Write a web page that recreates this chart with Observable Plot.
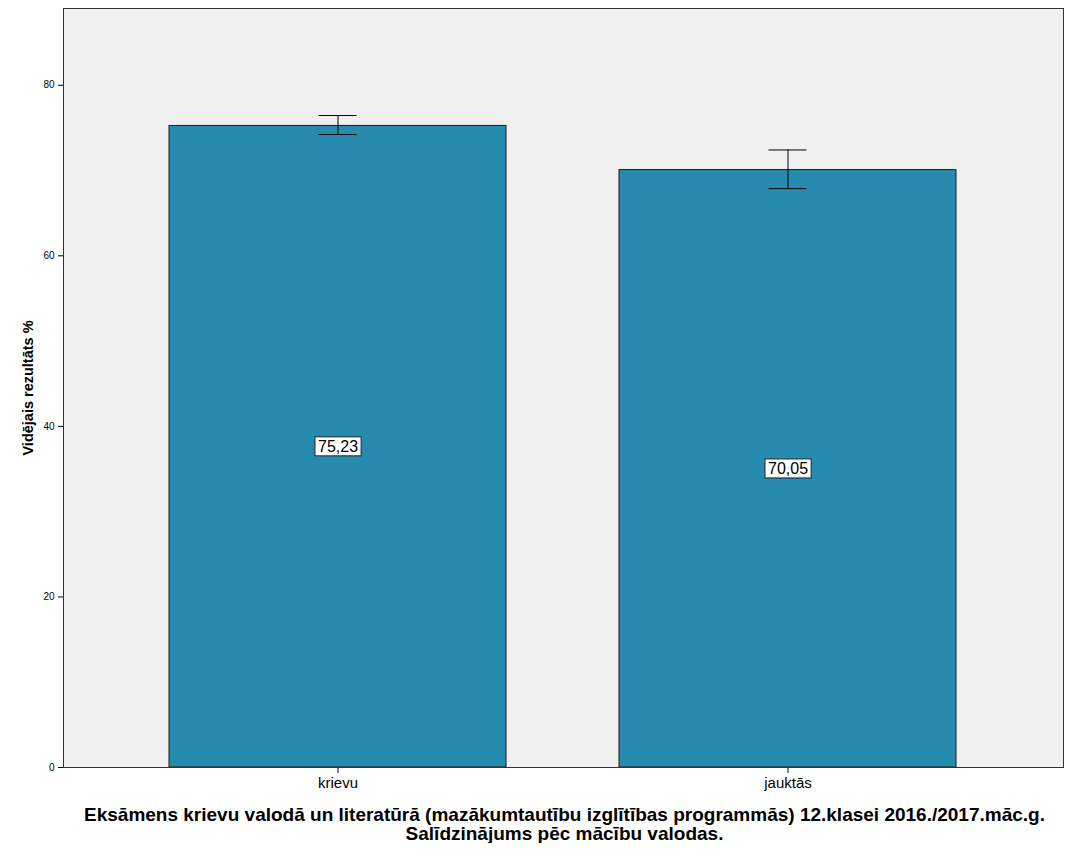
<!DOCTYPE html>
<html>
<head>
<meta charset="utf-8">
<script src="https://cdn.jsdelivr.net/npm/d3@7"></script>
<script src="https://cdn.jsdelivr.net/npm/@observablehq/plot@0.6"></script>
<style>
  body { margin: 0; background: #fff; font-family: "Liberation Sans", Arial, sans-serif; }
  #title { width: 1021px; padding-left: 54px; text-align: center; font-weight: bold; font-size: 19px; line-height: 19px; margin-top: 5px; color: #000; white-space: nowrap; }
</style>
</head>
<body>
<div id="chart"></div>
<div id="title">Eksāmens krievu valodā un literatūrā (mazākumtautību izglītības programmās) 12.klasei 2016./2017.māc.g.<br>Salīdzinājums pēc mācību valodas.</div>
<script>
// valodas un vidējie rezultāti
const valodas = ["krievu", "jauktās"];
const videjais = [75.23, 70.05];
// kļūdu joslas (apakša / augša)
const kludaApaksa = [74.22, 67.88];
const kludaAugsa = [76.45, 72.41];
const yTicks = [0, 20, 40, 60, 80];

const data = valodas.map((v, i) => ({ valoda: v, vid: videjais[i], lo: kludaApaksa[i], hi: kludaAugsa[i] }));
const fmt = d => d.toFixed(2).replace(".", ",");

let chart = Plot.plot({
  width: 1075,
  height: 800,
  marginLeft: 63,
  marginRight: 12,
  marginTop: 8,
  marginBottom: 33,
  style: { fontFamily: "Liberation Sans, Arial, sans-serif", background: "#fff" },
  x: { domain: valodas, paddingInner: 0.251, paddingOuter: 0.2365, label: null },
  y: { domain: [0, 89], ticks: yTicks, label: null },
  marks: [
    Plot.frame({ fill: "#f0f0f0" }),
    Plot.barY(data, { x: "valoda", y: "vid", fill: "#268bae", stroke: "#1a1a1a", strokeWidth: 1 }),
    Plot.ruleX(data, { x: "valoda", y1: "lo", y2: "hi", stroke: "#000", strokeWidth: 1 }),
    Plot.tickY(data, { x: "valoda", y: "lo", stroke: "#000", insetLeft: 149.5, insetRight: 149.5 }),
    Plot.tickY(data, { x: "valoda", y: "hi", stroke: "#000", insetLeft: 149.5, insetRight: 149.5 }),
    Plot.text(data, { x: "valoda", y: d => d.vid / 2, text: d => fmt(d.vid), fontSize: 16, fill: "#000", className: "vid-label" }),
    Plot.axisY({ ticks: yTicks, tickSize: 5, fontSize: 10, label: null }),
    Plot.axisX({ tickSize: 6, fontSize: 15, tickPadding: 4, label: null }),
    Plot.text(["Vidējais rezultāts %"], { frameAnchor: "left", textAnchor: "middle", dx: -35, rotate: -90, fontWeight: "bold", fontSize: 14.5, fill: "#000" }),
    Plot.frame({ stroke: "#333", strokeWidth: 1 })
  ]
});

d3.select('#chart').append(() => chart);

// balti rāmji ap vērtību uzrakstiem
d3.select(chart).selectAll("g.vid-label text").each(function () {
  const b = this.getBBox();
  d3.select(this.parentNode).insert("rect", () => this)
    .attr("transform", this.getAttribute("transform"))
    .attr("x", b.x - 3).attr("y", b.y - 1)
    .attr("width", b.width + 6).attr("height", b.height + 2)
    .attr("fill", "#fff").attr("stroke", "#222");
});
</script>
</body>
</html>
